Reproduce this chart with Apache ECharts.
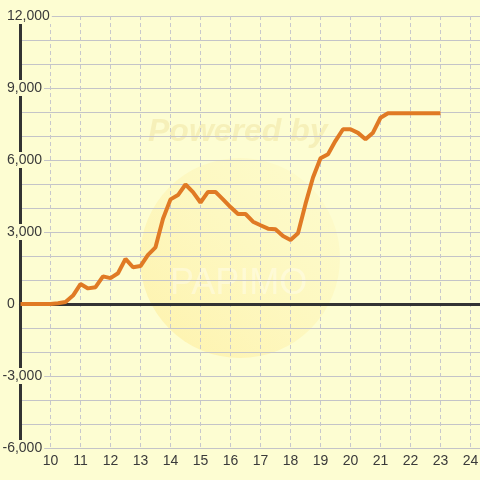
<!DOCTYPE html>
<html>
<head>
<meta charset="utf-8">
<script src="https://cdn.jsdelivr.net/npm/echarts@6/dist/echarts.min.js"></script>
<style>html,body{margin:0;padding:0;background:#fdfdd2}#c{width:480px;height:480px}</style>
</head>
<body>
<div id="c"></div>
<script>
const times = [9, 9.25, 9.5, 9.75, 10, 10.25, 10.5, 10.75, 11, 11.25, 11.5, 11.75, 12, 12.25, 12.5, 12.75,
  13, 13.25, 13.5, 13.75, 14, 14.25, 14.5, 14.75, 15, 15.25, 15.5, 15.75, 16, 16.25, 16.5, 16.75,
  17, 17.25, 17.5, 17.75, 18, 18.25, 18.5, 18.75, 19, 19.25, 19.5, 19.75, 20, 20.25, 20.5, 20.75,
  21, 21.25, 21.5, 21.75, 22, 22.25, 22.5, 22.75, 23];
const values = [0, 0, 0, 0, 0, 30, 80, 350, 830, 650, 700, 1150, 1080, 1280, 1880, 1530,
  1580, 2050, 2360, 3550, 4360, 4540, 4980, 4660, 4230, 4670, 4670, 4360, 4040, 3750, 3750, 3430,
  3280, 3140, 3110, 2830, 2670, 2950, 4170, 5270, 6070, 6240, 6800, 7280, 7280, 7130, 6860, 7140,
  7760, 7950, 7950, 7950, 7950, 7950, 7950, 7950, 7950];
const xTickLabels = [10, 11, 12, 13, 14, 15, 16, 17, 18, 19, 20, 21, 22, 23, 24];
const yMin = -6000, yMax = 12000, yLabelStep = 3000, yGridStep = 1000;
const xMin = 9, xMax = 24.5;

const bg = '#fdfdd2';
const textColor = '#3a3a3a';
const font = 'Liberation Sans, Arial, sans-serif';

function fmtNum(v) {
  const s = Math.abs(v).toString().replace(/\B(?=(\d{3})+(?!\d))/g, ',');
  return v < 0 ? '{n|-' + s + '}' : '{p|' + s + '}';
}

const chart = echarts.init(document.getElementById('c'), null, {renderer: 'canvas'});
chart.setOption({
  animation: false,
  backgroundColor: bg,
  graphic: [
    {
      type: 'circle', z: -10, shape: {cx: 240, cy: 258, r: 100},
      style: {
        fill: new echarts.graphic.LinearGradient(0, 1, 1, 0, [
          {offset: 0, color: 'rgba(255,222,100,0.35)'},
          {offset: 1, color: 'rgba(255,240,170,0.15)'}
        ])
      }
    },
    {
      type: 'text', z: -9, left: 148, top: 116,
      style: {text: 'Powered by', font: 'italic bold 32px ' + font, fill: 'rgba(232,212,130,0.3)'}
    },
    {
      type: 'text', z: -9, left: 170, top: 266,
      style: {text: 'PAPIMO', font: '36px ' + font, fill: 'rgba(255,255,255,0.35)'}
    }
  ],
  grid: {left: 20.5, top: 16, width: 465, height: 432, containLabel: false, outerBoundsMode: 'none'},
  xAxis: [
    {
      type: 'value', position: 'bottom', min: xMin, max: xMax, interval: 1,
      axisLine: {show: false}, axisTick: {show: false},
      axisLabel: {
        showMinLabel: false, showMaxLabel: false, margin: 6,
        fontSize: 14, color: textColor, fontFamily: font,
        formatter: v => (xTickLabels.indexOf(v) >= 0 ? String(v) : '')
      },
      splitLine: {show: true, lineStyle: {color: '#c8c8cc', width: 1, type: [4, 3]}}
    },
    {
      type: 'value', position: 'bottom', min: xMin, max: xMax, interval: 1,
      axisLine: {show: true, onZero: true, lineStyle: {color: '#333', width: 3}},
      axisTick: {show: false}, axisLabel: {show: false}, splitLine: {show: false}
    }
  ],
  yAxis: [
    {
      type: 'value', position: 'left', min: yMin, max: yMax, interval: yGridStep,
      axisLine: {show: false}, axisTick: {show: false}, axisLabel: {show: false},
      splitLine: {show: true, lineStyle: {color: '#c4c4c8', width: 1}}
    },
    {
      type: 'value', position: 'left', min: yMin, max: yMax, interval: yLabelStep,
      axisLine: {show: true, onZero: false, lineStyle: {color: '#333', width: 3}},
      axisTick: {show: false}, axisLabel: {show: false}, splitLine: {show: false}
    },
    {
      type: 'value', position: 'left', min: yMin, max: yMax, interval: yLabelStep, z: 5,
      axisLine: {show: false, onZero: false}, axisTick: {show: false}, splitLine: {show: false},
      axisLabel: {
        align: 'left', margin: 18, backgroundColor: bg, padding: [1, 2, 1, 0],
        formatter: fmtNum,
        rich: {
          p: {fontSize: 14, color: textColor, fontFamily: font, padding: [0, 0, 0, 4.5]},
          n: {fontSize: 14, color: textColor, fontFamily: font}
        }
      }
    }
  ],
  series: [
    {
      type: 'line', xAxisIndex: 0, yAxisIndex: 0, z: 3,
      data: times.map((t, i) => [t, values[i]]),
      symbol: 'none', smooth: false, clip: false,
      lineStyle: {color: '#e07a24', width: 4}
    }
  ]
});
</script>
</body>
</html>
